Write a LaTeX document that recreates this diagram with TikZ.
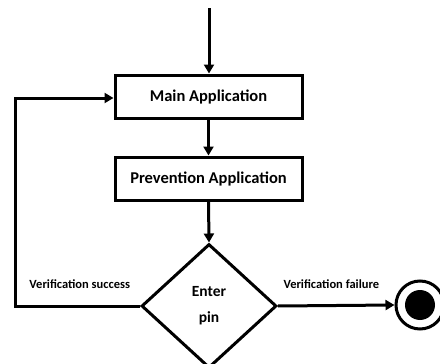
\documentclass[tikz,border=0pt]{standalone}
\usepackage{fontspec}
\setmainfont{Carlito}
\usetikzlibrary{shapes.geometric,arrows.meta}
\begin{document}
\begin{tikzpicture}[x=1pt,y=-1pt,
  line width=3pt,
  arr/.style={-{Triangle[length=9pt,width=10pt]}},
  box/.style={draw,rectangle,minimum width=187pt,minimum height=43pt,font=\bfseries\fontsize{16.5}{18}\selectfont,inner sep=0pt},
  dec/.style={draw,diamond,minimum width=135pt,minimum height=124pt,inner sep=0pt,font=\bfseries\fontsize{15.5}{26}\selectfont,align=center},
  lbl/.style={font=\bfseries\fontsize{12.5}{14}\selectfont,inner sep=0pt}]
\useasboundingbox[fill=white] (0,0) rectangle (440,364);
\begin{scope}
\clip (0,0) rectangle (440,364);
\coordinate (start) at (209,8);
\node[box] (main) at (208.5,96.5) {Main Application};
\node[box] (prev) at (208.5,178.5) {Prevention Application};
\node[dec] (pin) at (209,306) {Enter\\pin};
\node[draw,circle,minimum size=48pt,inner sep=0pt,line width=3pt] (end) at (420,305) {};
\fill (end.center) circle (15pt);
\coordinate (lc) at (15,306);
\coordinate (lt) at (15,98);
\draw[arr] (start) -- (main.north -| start);
\draw[arr] (main.south) -- (prev.north);
\draw[arr] (prev.south) -- (pin.north);
\draw[arr] (pin.west) -- (lc) -- (lt) -- (main.west |- lt);
\draw[arr] (pin.east) -- (end.west);
\node[lbl,anchor=base west] (succ) at (28,288) {Verification success};
\node[lbl,anchor=base west] (fail) at (282,288) {Verification failure};
\end{scope}
\end{tikzpicture}
\end{document}
